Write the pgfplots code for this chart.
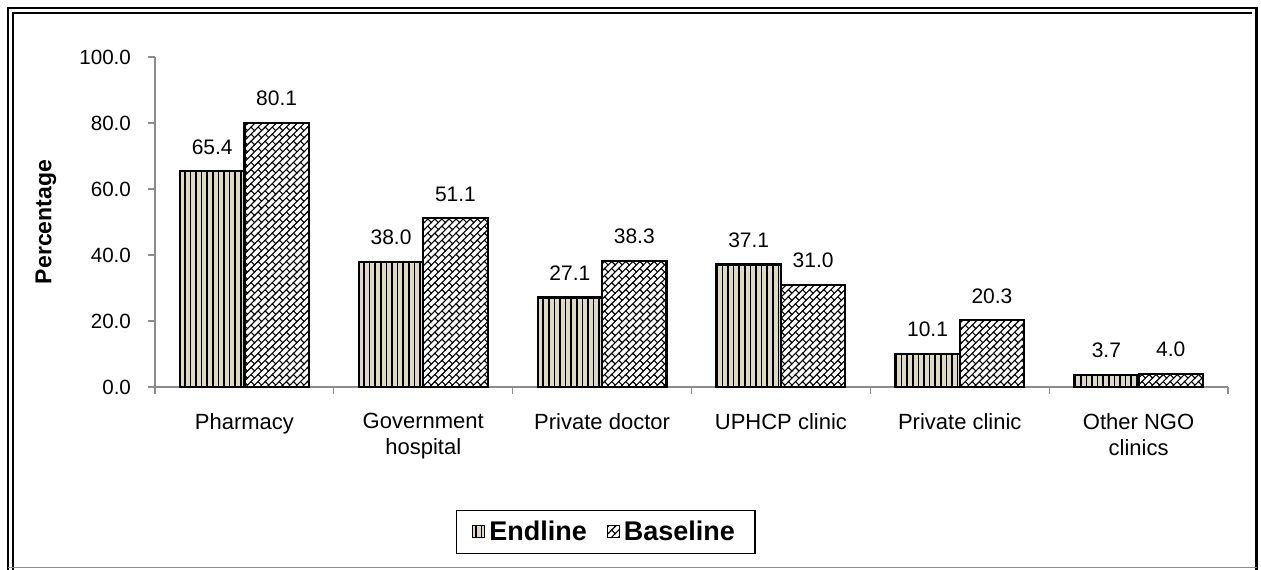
\documentclass[border=0pt]{standalone}
\usepackage{pgfplots}
\pgfplotsset{compat=1.18}
\usepackage{fontspec}
\setmainfont{Liberation Sans}
\usetikzlibrary{patterns,patterns.meta}
\definecolor{beige}{RGB}{221,217,195}
\definecolor{axgray}{RGB}{140,140,140}
\pgfdeclarepattern{
  name=DiagBricks,
  type=uncolored,
  bottom left={\pgfpoint{-.5pt}{-.5pt}},
  top right={\pgfpoint{5.5pt}{5.5pt}},
  tile size={\pgfpoint{5pt}{5pt}},
  tile transformation={\pgftransformrotate{45}},
  code={
    \pgfsetlinewidth{0.55pt}
    \pgfpathmoveto{\pgfpoint{-.5pt}{0pt}}\pgfpathlineto{\pgfpoint{5.5pt}{0pt}}
    \pgfpathmoveto{\pgfpoint{-.5pt}{2.5pt}}\pgfpathlineto{\pgfpoint{5.5pt}{2.5pt}}
    \pgfpathmoveto{\pgfpoint{0pt}{0pt}}\pgfpathlineto{\pgfpoint{0pt}{2.5pt}}
    \pgfpathmoveto{\pgfpoint{2.5pt}{2.5pt}}\pgfpathlineto{\pgfpoint{2.5pt}{5pt}}
    \pgfusepath{stroke}
  }
}
\begin{document}
\begin{tikzpicture}
\useasboundingbox (0,0) rectangle (630.5pt,284.5pt);
\draw[line width=1.2pt] (4pt,-1pt) -- (4pt,280.5pt) -- (628.3pt,280.5pt) -- (628.3pt,-1pt);
\draw[line width=0.6pt] (6.5pt,-1pt) -- (6.5pt,278pt) -- (626pt,278pt);
\draw[axgray, line width=0.8pt] (4pt,0.8pt) -- (628.3pt,0.8pt);
\begin{axis}[
  at={(77.5pt,91pt)}, anchor=south west,
  scale only axis, width=536.5pt, height=165pt,
  xmin=-0.5, xmax=5.5, ymin=0, ymax=100,
  axis x line*=bottom, axis y line*=left,
  axis line style={axgray, line width=0.6pt},
  every tick/.style={axgray, line width=0.6pt},
  xtick={0,1,2,3,4,5},
  xticklabels={Pharmacy, Government\\hospital, Private doctor, UPHCP clinic, Private clinic, Other NGO\\clinics},
  major x tick style={draw=none},
  minor xtick={-0.5,0.5,1.5,2.5,3.5,4.5,5.5},
  minor tick length=3.5pt,
  xticklabel style={font=\fontsize{11}{13}\selectfont, align=center, anchor=north, yshift=-6pt},
  ytick={0,20,40,60,80,100},
  major tick length=3.5pt,
  tick align=outside,
  yticklabel style={font=\fontsize{10.3}{12}\selectfont, xshift=-5pt},
  /pgf/number format/assume math mode=true,
  yticklabel={\pgfmathprintnumber[fixed,fixed zerofill,precision=1]{\tick}},
  ylabel={\textbf{Percentage}},
  ylabel style={font=\fontsize{11.5}{13}\selectfont, at={(axis description cs:-0.1016,0.5)}, anchor=center},
  ybar=0pt, bar width=0.36,
  nodes near coords,
  nodes near coords style={font=\fontsize{10.5}{12}\selectfont, /pgf/number format/.cd, fixed, fixed zerofill, precision=1, assume math mode=true, /tikz/.cd, yshift=4.5pt},
  legend style={at={(0.42,-0.439)}, anchor=center, draw=black, line width=0.6pt, legend columns=2,
    font=\fontsize{13.5}{15}\selectfont\bfseries, inner xsep=8pt, inner ysep=3pt,
    /tikz/every even column/.append style={column sep=8pt}},
  legend image code/.code={\draw[#1, line width=0.5pt] (0pt,-3pt) rectangle (6pt,3pt);},
]
\addplot[bar shift=-0.18, fill=beige, draw=black, line width=1.1pt,
  postaction={pattern={Lines[angle=90,distance=2.8pt,line width=0.8pt]}}]
  coordinates {(0,65.4) (1,38.0) (2,27.1) (3,37.1) (4,10.1) (5,3.7)};
\addlegendentry{Endline}
\addplot[bar shift=0.18, fill=white, draw=black, line width=1.1pt,
  postaction={pattern=DiagBricks}]
  coordinates {(0,80.1) (1,51.1) (2,38.3) (3,31.0) (4,20.3) (5,4.0)};
\addlegendentry{Baseline}
\end{axis}
\end{tikzpicture}
\end{document}
